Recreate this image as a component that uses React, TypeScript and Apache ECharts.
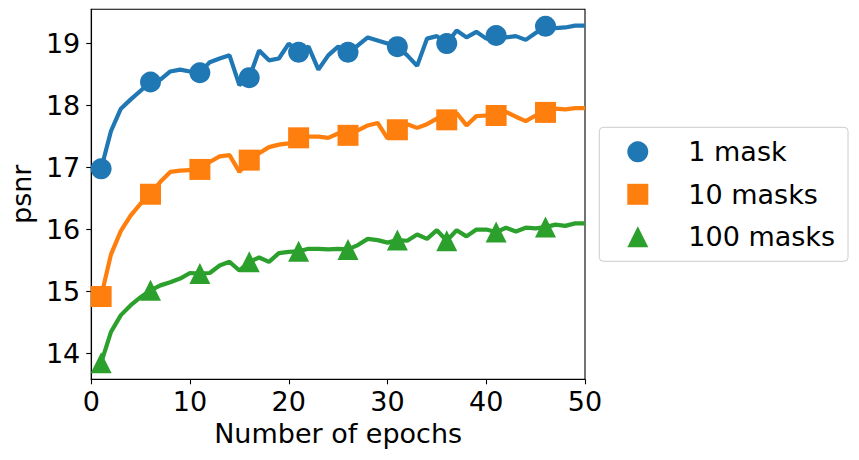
import React, { useEffect, useRef } from "react";
import * as echarts from "echarts";

const epochs = [
  1, 2, 3, 4, 5, 6, 7, 8, 9, 10, 11, 12, 13, 14, 15, 16, 17, 18, 19, 20, 21, 22, 23, 24, 25,
  26, 27, 28, 29, 30, 31, 32, 33, 34, 35, 36, 37, 38, 39, 40, 41, 42, 43, 44, 45, 46, 47, 48, 49, 50,
];

const oneMask = [
  16.98, 17.59, 17.95, 18.1, 18.24, 18.38, 18.42, 18.55, 18.58, 18.55,
  18.53, 18.7, 18.76, 18.81, 18.33, 18.45, 18.89, 18.73, 18.76, 19.0,
  18.86, 18.95, 18.58, 18.81, 18.95, 18.86, 18.97, 19.1, 19.05, 19.0,
  18.95, 18.81, 18.64, 19.08, 19.12, 19.0, 19.21, 19.1, 19.19, 19.08,
  19.13, 19.1, 19.12, 19.06, 19.17, 19.28, 19.25, 19.26, 19.29, 19.29,
];

const tenMasks = [
  14.92, 15.6, 15.98, 16.23, 16.42, 16.57, 16.77, 16.93, 16.95, 16.96,
  16.97, 17.09, 17.18, 17.2, 16.93, 17.12, 17.23, 17.33, 17.37, 17.39,
  17.48, 17.5, 17.5, 17.48, 17.55, 17.52, 17.6, 17.68, 17.72, 17.47,
  17.61, 17.7, 17.64, 17.7, 17.79, 17.77, 17.88, 17.68, 17.83, 17.84,
  17.84, 17.9, 17.82, 17.75, 17.84, 17.89, 17.95, 17.94, 17.96, 17.96,
];

const hundredMasks = [
  13.85, 14.35, 14.62, 14.78, 14.91, 15.02, 15.1, 15.15, 15.21, 15.3,
  15.29, 15.3, 15.42, 15.48, 15.34, 15.48, 15.55, 15.48, 15.62, 15.64,
  15.65, 15.69, 15.69, 15.68, 15.69, 15.68, 15.75, 15.85, 15.83, 15.79,
  15.83, 15.82, 15.92, 15.85, 15.99, 15.82, 15.99, 15.89, 16.0, 16.0,
  15.96, 16.03, 15.97, 16.03, 16.02, 16.04, 16.08, 16.06, 16.1, 16.1,
];

const seriesNames = ["1 mask", "10 masks", "100 masks"];
const seriesColors = ["#1f77b4", "#ff7f0e", "#2ca02c"];
const seriesSymbols = ["circle", "rect", "triangle"];
const yTicks = [14, 15, 16, 17, 18, 19];
const xTicks = [0, 10, 20, 30, 40, 50];
const MARK_EVERY = 5;

const FONT = "DejaVu Sans";

export default function App() {
  const ref = useRef<HTMLDivElement>(null);

  useEffect(() => {
    if (!ref.current) return;
    const chart = echarts.init(ref.current, null, { renderer: "svg" });
    const allValues = [oneMask, tenMasks, hundredMasks];

    const lineSeries = allValues.map((vals, i) => ({
      type: "line",
      name: seriesNames[i] + " line",
      data: vals.map((v, j) => [epochs[j], v]),
      showSymbol: false,
      symbol: "none",
      lineStyle: { color: seriesColors[i], width: 4.2 },
      itemStyle: { color: seriesColors[i] },
      z: 2 + i * 2,
      silent: true,
    }));
    const markerSeries = allValues.map((vals, i) => ({
      type: "scatter",
      name: seriesNames[i],
      data: vals
        .map((v, j) => [epochs[j], v])
        .filter((_, j) => j % MARK_EVERY === 0),
      symbol: seriesSymbols[i],
      symbolSize: 21,
      itemStyle: { color: seriesColors[i], opacity: 1 },
      z: 3 + i * 2,
      silent: true,
    }));

    chart.setOption({
      animation: false,
      backgroundColor: "#ffffff",
      textStyle: { fontFamily: FONT },
      grid: {
        left: 89.3,
        top: 9.3,
        width: 495.7,
        height: 370,
        show: true,
        borderColor: "#000",
        borderWidth: 1.1,
        backgroundColor: "transparent",
      },
      legend: {
        data: seriesNames,
        orient: "vertical",
        left: 599.3,
        top: 127.3,
        itemWidth: 21,
        itemHeight: 21,
        itemGap: 15.5,
        padding: [11, 13, 11, 28],
        borderColor: "#cccccc",
        borderWidth: 1,
        borderRadius: 4,
        backgroundColor: "rgba(255,255,255,0.8)",
        selectedMode: false,
        textStyle: {
          fontFamily: FONT,
          fontSize: 27,
          lineHeight: 27,
          color: "#000",
          padding: [0, 0, 0, 35],
        },
      },
      xAxis: {
        type: "value",
        min: xTicks[0],
        max: xTicks[xTicks.length - 1],
        interval: 10,
        name: "Number of epochs",
        nameLocation: "middle",
        nameGap: 41,
        nameTextStyle: { fontFamily: FONT, fontSize: 27, color: "#000" },
        axisLine: { show: true, onZero: false, lineStyle: { color: "#000", width: 1.1 } },
        axisTick: { show: true, inside: false, length: 5, lineStyle: { color: "#000", width: 1.1 } },
        axisLabel: { fontFamily: FONT, fontSize: 27, color: "#000", margin: 8.5 },
        splitLine: { show: false },
      },
      yAxis: {
        type: "value",
        min: 13.585,
        max: 19.553,
        name: "psnr",
        nameLocation: "middle",
        nameGap: 53,
        nameTextStyle: { fontFamily: FONT, fontSize: 27, color: "#000" },
        axisLine: { show: true, onZero: false, lineStyle: { color: "#000", width: 1.1 } },
        axisTick: {
          show: true,
          inside: false,
          length: 5,
          customValues: yTicks,
          lineStyle: { color: "#000", width: 1.1 },
        },
        axisLabel: {
          fontFamily: FONT,
          fontSize: 27,
          color: "#000",
          margin: 11,
          customValues: yTicks,
        },
        splitLine: { show: false },
      },
      series: [
        lineSeries[0], markerSeries[0],
        lineSeries[1], markerSeries[1],
        lineSeries[2], markerSeries[2],
      ],
    });

    return () => {
      chart.dispose();
    };
  }, []);

  return (
    <div
      ref={ref}
      style={{ position: "absolute", left: 0, top: 0, width: 859, height: 460 }}
    />
  );
}
